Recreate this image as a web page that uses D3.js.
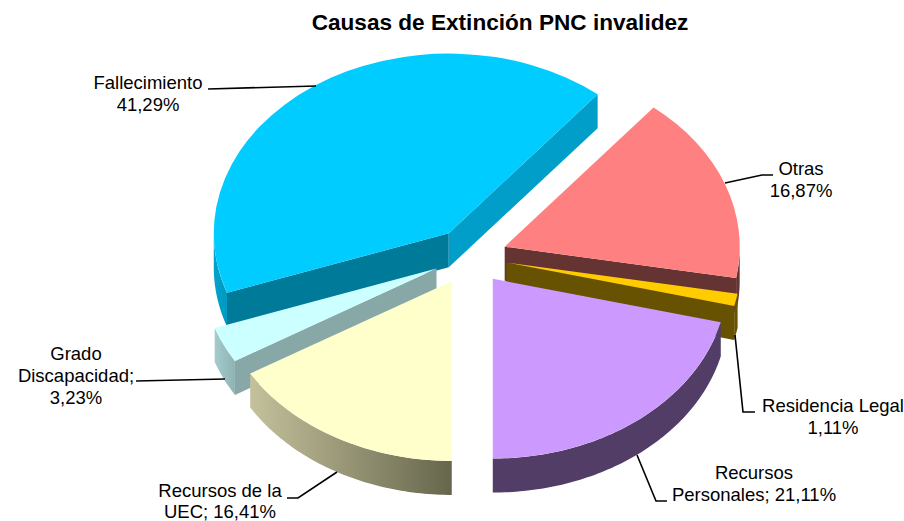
<!DOCTYPE html>
<html><head><meta charset="utf-8">
<script src="https://cdn.jsdelivr.net/npm/d3@7"></script>
<style>html,body{margin:0;padding:0;background:#fff;overflow:hidden}svg{display:block}</style>
</head><body><svg id="c" width="904" height="521"></svg>
<script>
const title = "Causas de Extinción PNC invalidez";
const categories = ["Recursos de la UEC","Grado Discapacidad","Fallecimiento","Otras","Residencia Legal","Recursos Personales"];
const values = [16.41, 3.23, 41.29, 16.87, 1.11, 21.11];
const labelLines = [
  ["Recursos de la","UEC; 16,41%"],
  ["Grado","Discapacidad;","3,23%"],
  ["Fallecimiento","41,29%"],
  ["Otras","16,87%"],
  ["Residencia Legal","1,11%"],
  ["Recursos","Personales; 21,11%"]
];
const topColors  = ["#FFFFCC","#CCFFFF","#00CCFF","#FF8080","#FFCC00","#CC99FF"];
const cutColors  = ["#66664C","#88A8A8","#007A99","#663333","#665200","#523D66"];
const wallStart  = ["#C4C19C","#A3CCCC","#00A3CC","#663333","#665200","#523D66"];
const wallEnd    = ["#66664C","#8FB3B3","#0099C2","#663333","#665200","#523D66"];
const upperCut = "#009EC8";
const paintOrder = [2,3,4,1,0,5];
const labelX = [220,76,148,801,833,754];
const labelY = [497,360,89,175,412,479];
const leaders = [
  [[337,472],[298,498],[287,498]],
  [[225,379],[136,381]],
  [[316,86],[208,89]],
  [[725,183],[762,175],[773,175]],
  [[735,335],[743,412],[755,412]],
  [[637,455],[656,501],[667,501]]
];
const W=904,H=521,cx=470,cy=256.5,R=235,tilt=0.765,explode=37,depth=34;
const svg=d3.select("#c");
const defs=svg.append("defs");
const pie=d3.pie().sort(null).startAngle(Math.PI).endAngle(3*Math.PI);
const arcs=pie(values);
const arcGen=d3.arc().innerRadius(0).outerRadius(R);
const line=d3.line().curve(d3.curveLinear);
arcs.forEach((d,i)=>{
  const mid=(d.startAngle+d.endAngle)/2;
  d.ox=cx+explode*Math.sin(mid);
  d.oy=cy-explode*tilt*Math.cos(mid);
  d.pt=(a,dz=0)=>[d.ox+R*Math.sin(a),d.oy-R*tilt*Math.cos(a)+dz];
  d.i=i;
});
const g=svg.append("g");
paintOrder.forEach(i=>{
  const d=arcs[i],a=d.startAngle,b=d.endAngle;
  const sl=g.append("g").attr("class","slice");
  const face=(ang,col)=>{
    const p=d.pt(ang);
    sl.append("path").attr("d",line([[d.ox,d.oy],p,[p[0],p[1]+depth],[d.ox,d.oy+depth]])+"Z").attr("fill",col);
  };
  if(Math.sin(a)<-1e-6) face(a,cutColors[i]);
  if(Math.sin(b)>1e-6) face(b,i===2?upperCut:cutColors[i]);
  [[Math.PI/2,1.5*Math.PI],[2.5*Math.PI,3.5*Math.PI]].forEach(([lo,hi])=>{
    const s=Math.max(a,lo),e=Math.min(b,hi);
    if(e<=s) return;
    const n=Math.max(8,Math.ceil((e-s)*60));
    const angs=d3.range(n+1).map(k=>s+(e-s)*k/n);
    const top=angs.map(t=>d.pt(t)),bot=angs.map(t=>d.pt(t,depth)).reverse();
    const xs=top.map(p=>p[0]);
    const id="w"+i;
    const lg=defs.append("linearGradient").attr("id",id).attr("gradientUnits","userSpaceOnUse")
      .attr("x1",d3.min(xs)).attr("x2",d3.max(xs)).attr("y1",0).attr("y2",0);
    lg.append("stop").attr("offset",0).attr("stop-color",wallStart[i]);
    lg.append("stop").attr("offset",1).attr("stop-color",wallEnd[i]);
    sl.append("path").attr("d",line(top.concat(bot))+"Z").attr("fill",`url(#${id})`);
  });
  sl.append("path").attr("d",arcGen(d))
    .attr("transform",`translate(${d.ox},${d.oy}) scale(1,${tilt})`)
    .attr("fill",topColors[i]);
});
const font="'Liberation Sans',Arial,sans-serif";
svg.append("text").attr("x",500).attr("y",30).attr("text-anchor","middle")
  .attr("font-family",font).attr("font-weight","bold").attr("font-size",22.6).attr("fill","#000").text(title);
leaders.forEach(pts=>{
  svg.append("path").attr("d",line(pts)).attr("fill","none").attr("stroke","#000").attr("stroke-width",1.6);
});
labelLines.forEach((ls,i)=>{
  const t=svg.append("text").attr("font-family",font).attr("font-size",18.5).attr("fill","#000").attr("text-anchor","middle");
  ls.forEach((s,k)=>t.append("tspan").attr("x",labelX[i]).attr("y",labelY[i]+k*(i===0?21:22)).text(s));
});
</script></body></html>
